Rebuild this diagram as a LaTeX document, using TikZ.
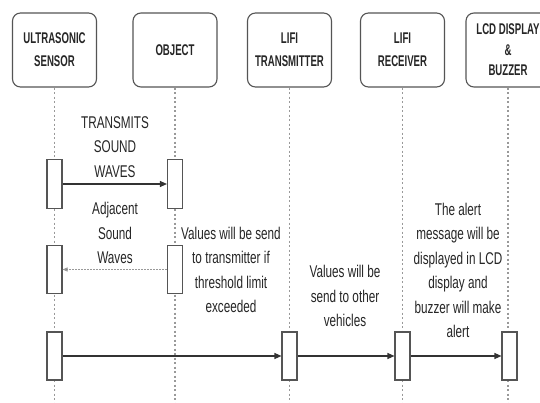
\documentclass[tikz,border=0pt]{standalone}
\usepackage{fontspec}
\setmainfont{Liberation Sans}
\newfontfamily\bodyfont[FakeStretch=0.69]{Liberation Sans}
\newfontfamily\headfont[FakeStretch=0.62]{Liberation Sans Bold}
\usetikzlibrary{arrows.meta}
\definecolor{txt}{HTML}{262626}
\definecolor{edge}{HTML}{555555}
\begin{document}
\begin{tikzpicture}[x=1pt,y=-1pt,
  header/.style={draw=edge,line width=1.1pt,rounded corners=8pt,fill=white,
    minimum width=84pt,minimum height=74pt,inner sep=0pt,align=center,
    text=txt,font=\headfont\fontsize{15.5}{23}\selectfont},
  actbox/.style={draw=edge,line width=1.1pt,fill=white,minimum width=15pt,
    minimum height=48pt,inner sep=0pt},
  lifeline/.style={draw=gray!80,line width=1.1pt,dash pattern=on 2pt off 2.5pt},
  msg/.style={draw=black!80,line width=1.1pt,-{Triangle[length=7pt,width=6pt]}},
  reply/.style={draw=gray!80,line width=1.1pt,dash pattern=on 1.5pt off 1.5pt,
    -{Triangle[length=5pt,width=4pt,fill=black!80]}},
  lbl/.style={align=center,text=txt,inner sep=0pt,
    font=\bodyfont\fontsize{17}{24.5}\selectfont}]
\useasboundingbox (0,0) rectangle (540,403);
\fill[white] (0,0) rectangle (540,403);
\clip (0,0) rectangle (540,403);
% headers
\node[header] (h1) at (54.5,50) {ULTRASONIC\\SENSOR};
\node[header] (h2) at (175,50) {OBJECT};
\node[header] (h3) at (289.5,50) {LIFI\\TRANSMITTER};
\node[header] (h4) at (402.5,50) {LIFI\\RECEIVER};
\node[header] (h5) at (508,50) {LCD DISPLAY\\[-2pt]\&\\[-3pt]BUZZER};
% lifeline ends
\coordinate (e1) at (54.5,403);
\coordinate (e2) at (175,403);
\coordinate (e3) at (289.5,403);
\coordinate (e4) at (402.5,403);
\coordinate (e5) at (508,403);
\foreach \i in {1,...,5} {\draw[lifeline] (h\i.south) -- (e\i);}
% activations
\node[actbox,minimum height=49pt] (a1) at (54.5,184) {};
\node[actbox,minimum height=49pt] (a2) at (175,184) {};
\node[actbox] (a3) at (54.5,269.5) {};
\node[actbox] (a4) at (175,269.5) {};
\node[actbox] (a5) at (54.5,356) {};
\node[actbox] (a6) at (289.5,356) {};
\node[actbox] (a7) at (402.5,356) {};
\node[actbox] (a8) at (509.5,356) {};
% messages
\draw[msg] (a1.east) -- (a2.west);
\draw[reply] (a4.west) -- (a3.east);
\draw[msg] (a5.east) -- (a6.west);
\draw[msg] (a6.east) -- (a7.west);
\draw[msg] (a7.east) -- (a8.west);
% labels
\node[lbl] (t1) at (115,147) {TRANSMITS\\SOUND\\WAVES};
\node[lbl] (t2) at (115,233) {Adjacent\\Sound\\Waves};
\node[lbl] (t3) at (231,270) {Values will be send\\to transmitter if\\threshold limit\\exceeded};
\node[lbl] (t4) at (345,296) {Values will be\\send to other\\vehicles};
\node[lbl] (t5) at (458,270.5) {The alert\\message will be\\displayed in LCD\\display and\\buzzer will make\\alert};
\end{tikzpicture}
\end{document}
